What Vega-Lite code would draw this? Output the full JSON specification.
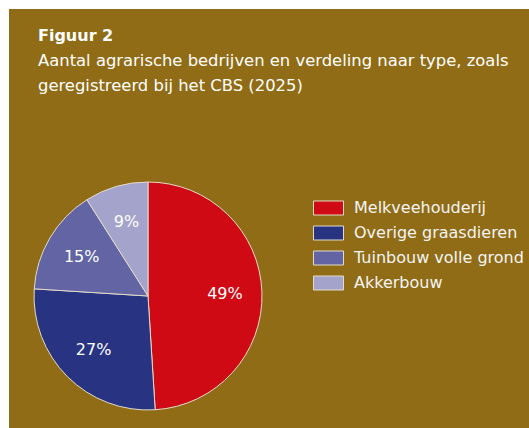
{
  "$schema": "https://vega.github.io/schema/vega-lite/v6.json",
  "background": "white",
  "padding": {"left": 9, "top": 9, "right": 0, "bottom": 0},
  "spacing": 0,
  "config": {
    "view": {"fill": "#8F6C15", "stroke": null},
    "style": {"cell": {"fill": "#8F6C15", "stroke": null}},
    "font": "DejaVu Sans",
    "concat": {"spacing": 0}
  },
  "datasets": {
    "farm": [
      {"type": "Melkveehouderij", "pct": 49, "label": "49%"},
      {"type": "Overige graasdieren", "pct": 27, "label": "27%"},
      {"type": "Tuinbouw volle grond", "pct": 15, "label": "15%"},
      {"type": "Akkerbouw", "pct": 9, "label": "9%"}
    ]
  },
  "vconcat": [
    {
      "width": 520,
      "height": 155,
      "view": {"fill": "#8F6C15", "stroke": null},
      "data": {"values": []},
      "title": {
        "text": "Figuur 2",
        "subtitle": ["Aantal agrarische bedrijven en verdeling naar type, zoals", "geregistreerd bij het CBS (2025)"],
        "anchor": "start",
        "frame": "group",
        "orient": "top",
        "offset": -85,
        "dx": 29,
        "font": "DejaVu Sans",
        "fontSize": 16,
        "fontWeight": "bold",
        "color": "white",
        "subtitleFont": "DejaVu Sans",
        "subtitleFontSize": 16.4,
        "subtitleColor": "white",
        "subtitleLineHeight": 25,
        "subtitlePadding": 9
      },
      "mark": {"type": "text", "text": ""}
    },
    {
      "spacing": 0,
      "resolve": {"legend": {"color": "independent"}},
      "hconcat": [
        {
          "width": 278,
          "height": 264,
          "view": {"fill": "#8F6C15", "stroke": null},
          "data": {"name": "farm"},
          "encoding": {
            "theta": {"field": "pct", "type": "quantitative", "stack": true},
            "order": {"field": "pct", "sort": "descending"}
          },
          "layer": [
            {
              "mark": {"type": "arc", "outerRadius": 114, "stroke": "#e2dccb", "strokeWidth": 1},
              "encoding": {
                "color": {
                  "field": "type",
                  "type": "nominal",
                  "scale": {
                    "domain": ["Melkveehouderij", "Overige graasdieren", "Tuinbouw volle grond", "Akkerbouw"],
                    "range": ["#D00A14", "#283481", "#6264A3", "#A3A3CB"]
                  },
                  "legend": null
                }
              }
            },
            {
              "mark": {"type": "text", "radius": 77, "fill": "white", "fontSize": 16, "font": "DejaVu Sans"},
              "encoding": {"text": {"field": "label"}}
            }
          ]
        },
        {
          "width": 242,
          "height": 264,
          "view": {"fill": "#8F6C15", "stroke": null},
          "data": {"name": "farm"},
          "mark": {"type": "point", "filled": true, "opacity": 0},
          "encoding": {
            "color": {
              "field": "type",
              "type": "nominal",
              "scale": {
                "domain": ["Melkveehouderij", "Overige graasdieren", "Tuinbouw volle grond", "Akkerbouw"],
                "range": ["#D00A14", "#283481", "#6264A3", "#A3A3CB"]
              },
              "legend": {
                "orient": "none",
                "legendX": 33.5,
                "legendY": 36,
                "title": null,
                "symbolType": "M-2.143,-1H2.143V1H-2.143Z",
                "symbolSize": 196,
                "labelColor": "#f4f4f4",
                "labelFont": "DejaVu Sans",
                "labelFontSize": 16,
                "labelOffset": 17.5,
                "labelLimit": 400,
                "rowPadding": 7,
                "padding": 0,
                "encode": {
                  "symbols": {
                    "update": {
                      "opacity": {"value": 1},
                      "fillOpacity": {"value": 1},
                      "stroke": {"value": "#e2dccb"},
                      "strokeWidth": {"value": 1}
                    }
                  }
                }
              }
            }
          }
        }
      ]
    }
  ]
}
